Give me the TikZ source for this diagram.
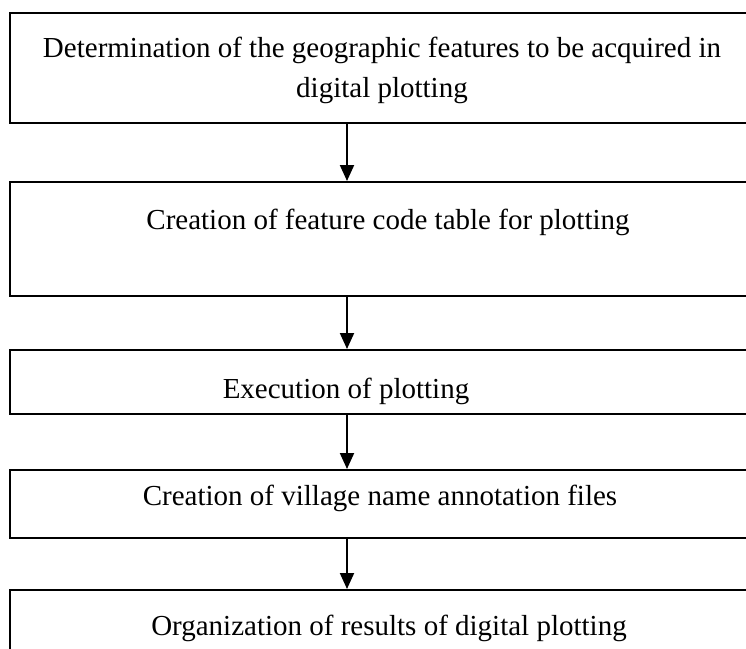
\documentclass[tikz,border=0pt]{standalone}
\usepackage{fontspec}
\setmainfont{Liberation Serif}
\usetikzlibrary{arrows.meta}
\tikzset{
  stepbox/.style={draw, line width=2pt, minimum width=750pt, inner sep=0pt},
  steptext/.style={font=\fontsize{29}{40}\selectfont, align=center, inner sep=0pt},
  flow/.style={line width=2pt, -{Triangle[width=14pt,length=16pt]}}
}
\begin{document}
\begin{tikzpicture}[x=1pt,y=-1pt]
      \useasboundingbox (0,0) rectangle (746,648);
      % boxes
      \node[stepbox, minimum height=110pt] (b1) at (385,68) {};
      \node[stepbox, minimum height=114pt] (b2) at (385,239) {};
      \node[stepbox, minimum height=64pt] (b3) at (385,382) {};
      \node[stepbox, minimum height=68pt] (b4) at (385,504) {};
      \node[stepbox, minimum height=62pt] (b5) at (385,621) {};
      % texts
      \node[steptext] (t1) at (382,70) {Determination of the geographic features to be acquired in\\digital plotting};
      \node[steptext] (t2) at (388,222) {Creation of feature code table for plotting};
      \node[steptext] (t3) at (346,391) {Execution of plotting};
      \node[steptext] (t4) at (380,498) {Creation of village name annotation files};
      \node[steptext] (t5) at (389,628) {Organization of results of digital plotting};
      \coordinate (ax) at (347,0);
      \begin{scope}[flow]
        \draw (b1.south -| ax) to (b2.north -| ax);
        \draw (b2.south -| ax) to (b3.north -| ax);
        \draw (b3.south -| ax) to (b4.north -| ax);
        \draw (b4.south -| ax) to (b5.north -| ax);
      \end{scope}
    \end{tikzpicture}
\end{document}
